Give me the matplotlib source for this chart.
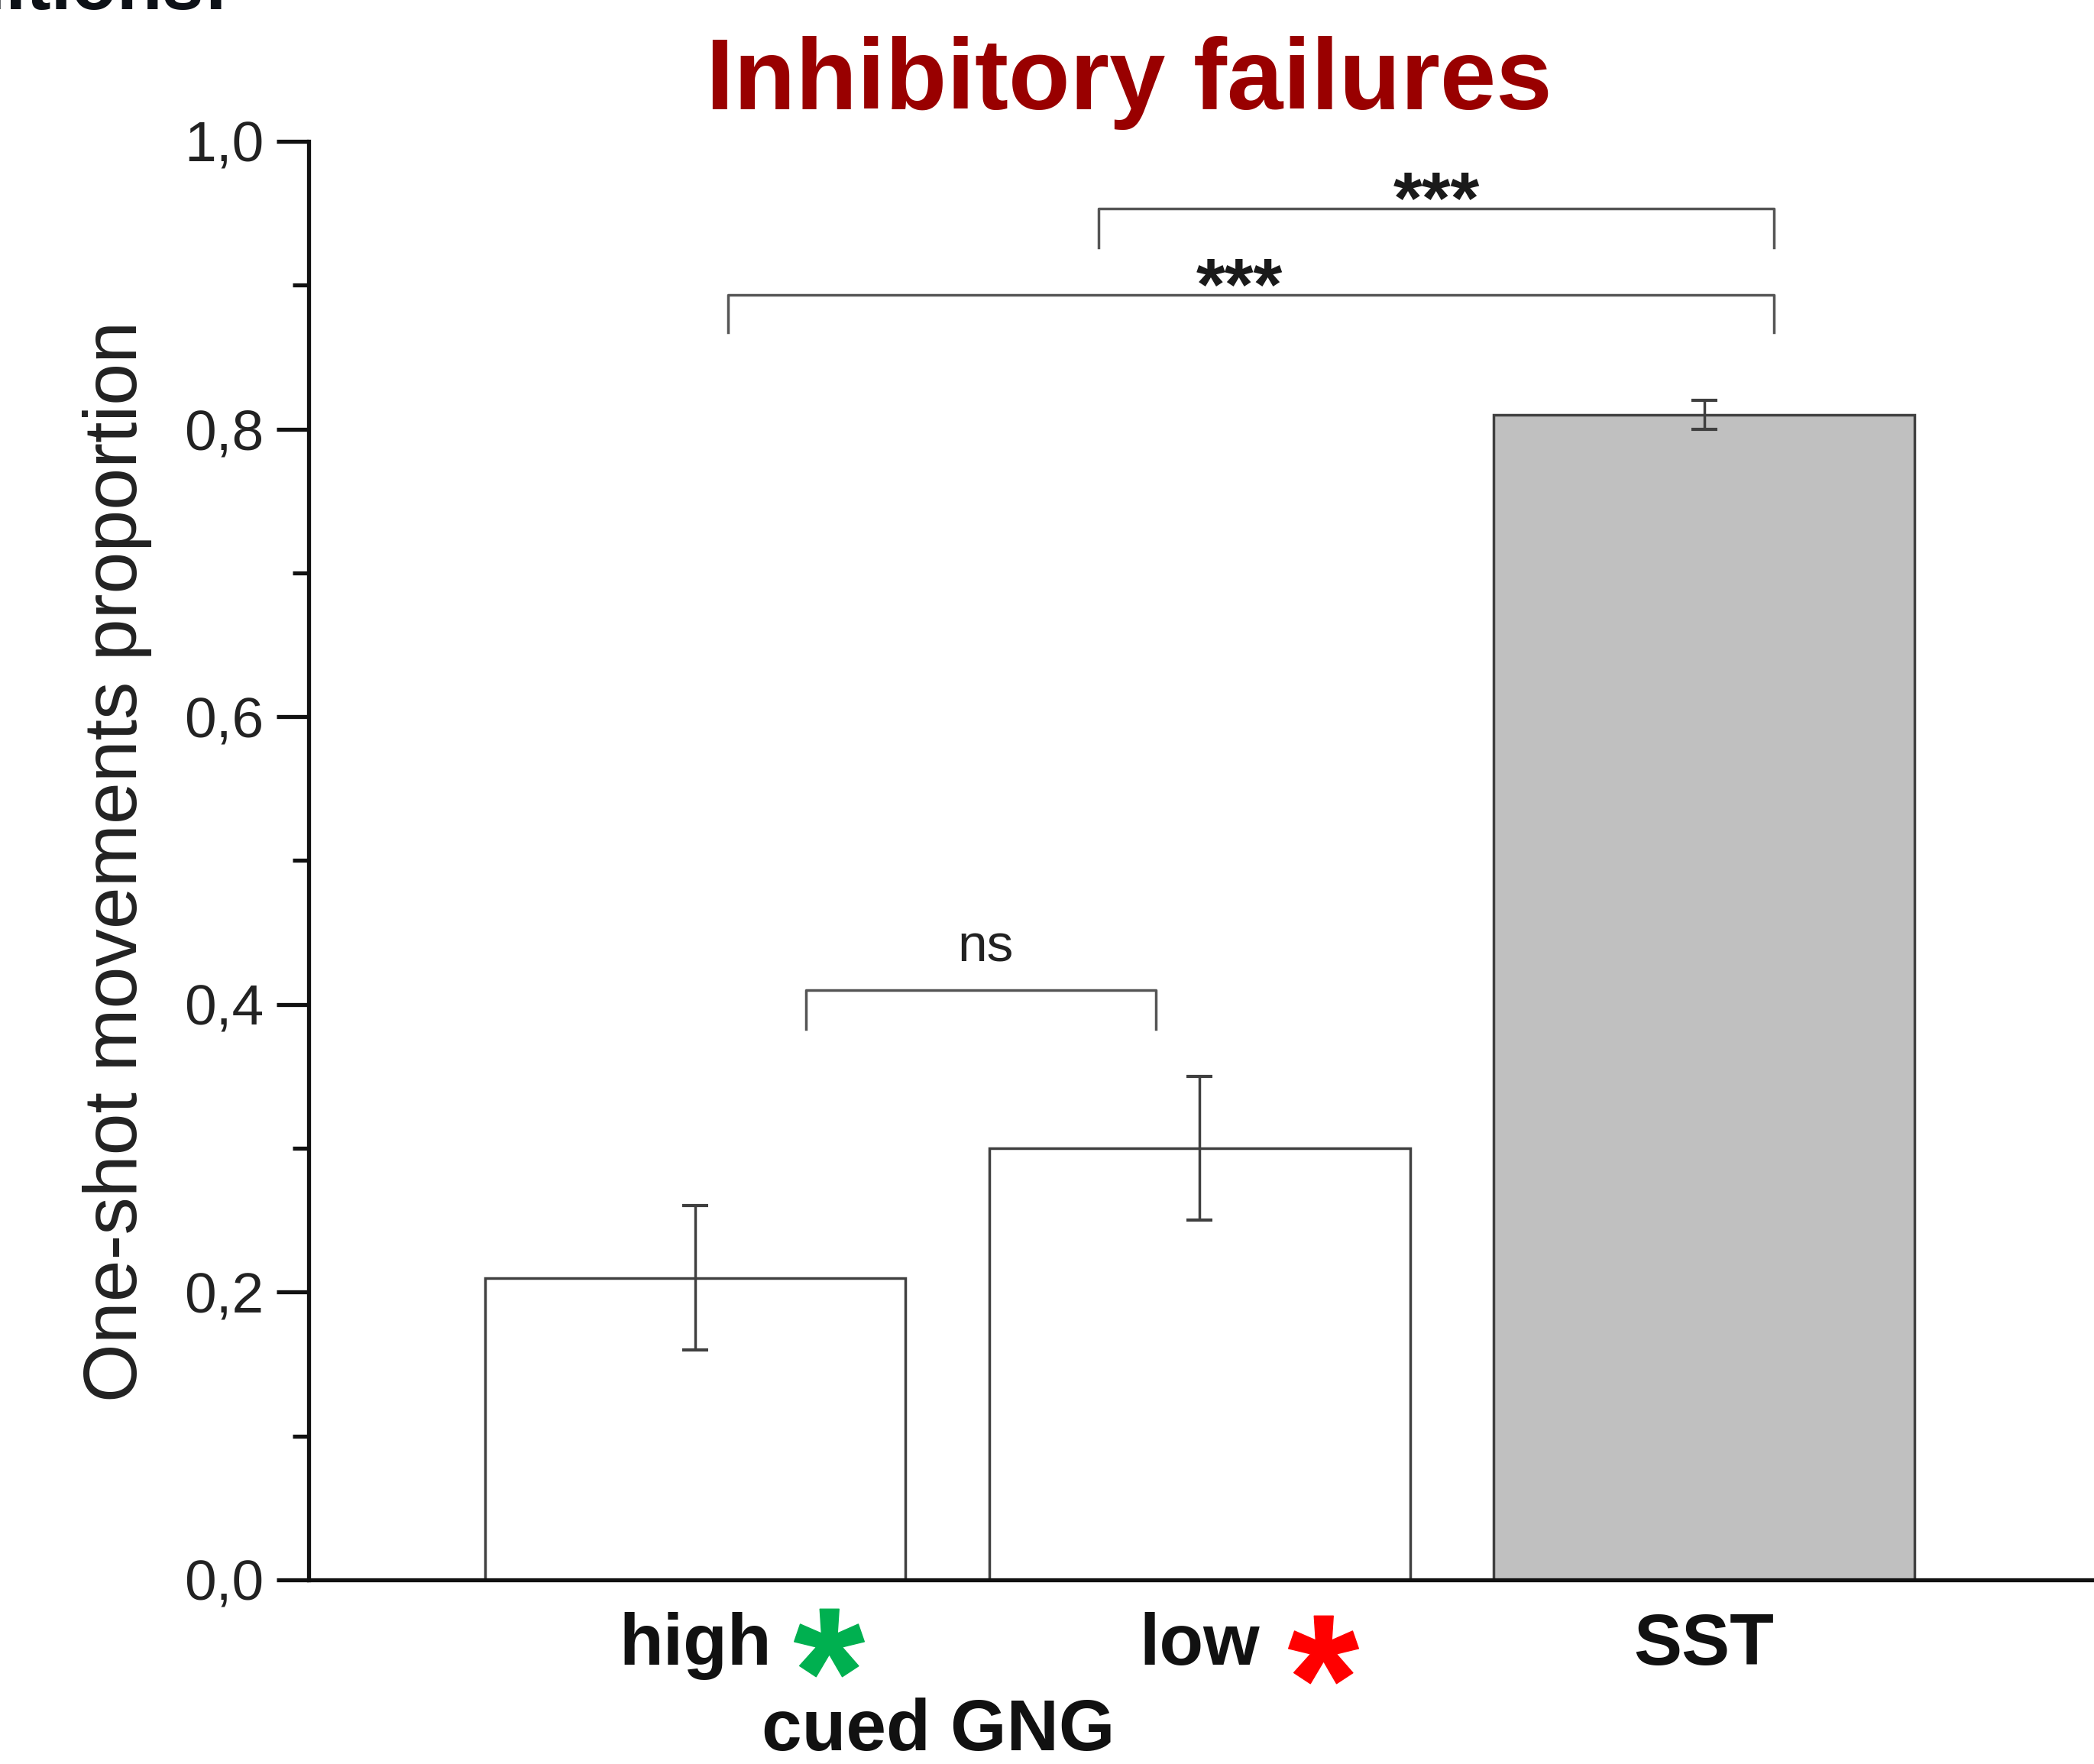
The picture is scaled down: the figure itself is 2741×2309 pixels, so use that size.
import matplotlib
matplotlib.use("Agg")
import matplotlib.pyplot as plt
from matplotlib.ticker import MultipleLocator, FuncFormatter

# data
categories = ['high', 'low', 'SST']
positions = [1, 2, 3]
means = [0.21, 0.30, 0.81]
errors = [0.05, 0.05, 0.01]
fills = ['white', 'white', '#c0c0c0']

# significance brackets
bracket_x0 = [1.22, 1.80, 1.065]
bracket_x1 = [1.913, 3.139, 3.139]
bracket_top = [0.410, 0.953, 0.893]
bracket_leg = [0.383, 0.926, 0.867]
bracket_lab = ['ns', '***', '***']
bracket_lab_x = [1.576, 2.469, 2.079]

plt.rcParams['font.family'] = ['Liberation Sans', 'DejaVu Sans']
plt.rcParams['mathtext.fontset'] = 'custom'
plt.rcParams['mathtext.bf'] = 'Liberation Sans:bold'
plt.rcParams['mathtext.rm'] = 'Liberation Sans'

fig = plt.figure(figsize=(27.41, 23.09), dpi=100)
ax = fig.add_axes([0.1473, 0.1044, 0.8527, 0.8155])

ax.bar(positions, means, width=0.834, color=fills, edgecolor='#404040',
       linewidth=2.5, zorder=2)
ax.errorbar(positions, means, yerr=errors, fmt='none', ecolor='#404040',
            elinewidth=2.5, capsize=12, capthick=3, zorder=3)

for x0, x1, yt, yl, lab, lx in zip(bracket_x0, bracket_x1, bracket_top,
                                   bracket_leg, bracket_lab, bracket_lab_x):
    ax.plot([x0, x0, x1, x1], [yl, yt, yt, yl], color='#555555', lw=2.5,
            clip_on=False, zorder=3)
    if lab == 'ns':
        ax.text(lx, yt + 0.02, lab, ha='center', va='baseline',
                fontsize=50, color='#222222')
    else:
        ax.text(lx, yt - 0.01, lab, ha='center', va='baseline',
                fontsize=70, fontweight='bold', color='#1a1a1a')

ax.set_xlim(0.233, 3.773)
ax.set_ylim(0, 1.0)
ax.spines['top'].set_visible(False)
ax.spines['right'].set_visible(False)
ax.spines['left'].set_linewidth(3.8)
ax.spines['bottom'].set_linewidth(3.8)
ax.spines['left'].set_color('#111111')
ax.spines['bottom'].set_color('#111111')

ax.yaxis.set_major_locator(MultipleLocator(0.2))
ax.yaxis.set_minor_locator(MultipleLocator(0.1))
ax.yaxis.set_major_formatter(FuncFormatter(lambda v, p: f"{v:.1f}".replace('.', ',')))
ax.tick_params(axis='y', which='major', length=30, width=3.8, pad=12,
               labelsize=54, colors='#111111', labelcolor='#222222')
ax.tick_params(axis='y', which='minor', length=15, width=3.8, colors='#111111')

ax.set_xticks(positions, categories)
ax.tick_params(axis='x', length=0, pad=30, labelsize=68)
for t in ax.get_xticklabels():
    t.set_fontweight('bold')
    t.set_color('#111111')

# coloured stars after the GNG labels
ax.plot([0.396], [0.0689], marker=r'$\mathbf{*}$', markersize=66, color='#00b050',
        transform=fig.transFigure, clip_on=False, linestyle='none')
ax.plot([0.632], [0.0651], marker=r'$\mathbf{*}$', markersize=66, color='#ff0000',
        transform=fig.transFigure, clip_on=False, linestyle='none')

fig.text(0.448, 0.008, 'cued GNG', ha='center', va='baseline', fontsize=68,
         fontweight='bold', color='#111111')

fig.text(0.0561, 0.5117, 'One-shot movements proportion', rotation=90,
         ha='center', va='center', fontsize=71, color='#222222')

fig.text(0.539, 0.9379, 'Inhibitory failures', ha='center', va='baseline',
         fontsize=95, fontweight='bold', color='#990000')

# cut-off heading from the slide above
fig.text(0.109, 0.9948, 'conditions:', ha='right', va='baseline', fontsize=70,
         fontweight='bold', color='#0d1117')

fig.savefig('out.png', dpi=100)
